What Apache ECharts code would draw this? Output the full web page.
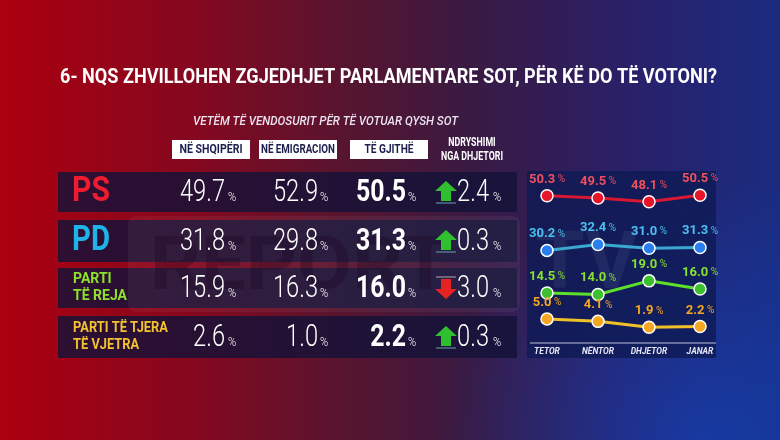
<!DOCTYPE html>
<html>
<head>
<meta charset="utf-8">
<title>Sondazh - zgjedhjet parlamentare</title>
<script src="https://cdn.jsdelivr.net/npm/echarts@6/dist/echarts.min.js"></script>
<style>
html, body { margin: 0; padding: 0; background: #3a1a40; }
#pollChart { width: 780px; height: 440px; }
</style>
</head>
<body>
<div id="pollChart"></div>
<script>
// te dhenat e sondazhit
const titleText = '6- NQS ZHVILLOHEN ZGJEDHJET PARLAMENTARE SOT, PËR KË DO TË VOTONI?'
const subTitle = 'VETËM TË VENDOSURIT PËR TË VOTUAR QYSH SOT'
const columnHeaders = ['NË SHQIPËRI', 'NË EMIGRACION', 'TË GJITHË']
const changeHeader = ['NDRYSHIMI', 'NGA DHJETORI']
const parties = ['PS', 'PD', 'PARTI\nTË REJA', 'PARTI TË TJERA\nTË VJETRA']
const inAlbania = [49.7, 31.8, 15.9, 2.6]
const inEmigration = [52.9, 29.8, 16.3, 1.0]
const overall = [50.5, 31.3, 16.0, 2.2]
const changeSinceDec = [2.4, 0.3, -3.0, 0.3]

const months = ['TETOR', 'NËNTOR', 'DHJETOR', 'JANAR']
const psTrend = [50.3, 49.5, 48.1, 50.5]
const pdTrend = [30.2, 32.4, 31.0, 31.3]
const newTrend = [14.5, 14.0, 19.0, 16.0]
const oldTrend = [5.0, 4.1, 1.9, 2.2]

// ngjyrat
const partyColors = ['#ee1c2e', '#1eb4ea', '#8de02c', '#f2c230']
const trendStyle = [
  { line: '#d81830', dot: '#e8142a', label: '#f0505c' },
  { line: '#3aa8d0', dot: '#2a7ff0', label: '#4cc0f0' },
  { line: '#5ee02a', dot: '#3cc030', label: '#88e030' },
  { line: '#f0c028', dot: '#f5a623', label: '#f5a623' }
]

const FONT = 'Roboto, "Noto Sans", sans-serif'
const ctx = document.createElement('canvas').getContext('2d')
function measure(text, size, weight, style) {
  ctx.font = (style || 'normal') + ' ' + weight + ' ' + size + 'px ' + FONT
  return Math.max(...text.split('\n').map(t => ctx.measureText(t).width))
}
function text(x, y, str, size, weight, fill, align, scaleX, fontStyle) {
  return {
    type: 'text', x: x, y: y, scaleX: scaleX || 1,
    style: {
      text: str, fontSize: size, fontWeight: weight, fontStyle: fontStyle || 'normal', fontFamily: FONT, fill: fill,
      align: align, verticalAlign: 'middle', textAlign: align, textVerticalAlign: 'middle'
    }
  }
}

// layout
const rowY = [192, 241, 288, 337]
const bandTop = [172, 220, 268, 316]
const bandH = [40, 42, 40, 42]
const numRight = [225, 318, 406, 489]
const pctLeft = [228, 320, 408, 493]
const NUM_SIZE = 31
const sLight = 45 / measure('49.7', NUM_SIZE, 300)
const sBold = 50 / measure('50.5', NUM_SIZE, 'bold')

let elements = []
elements.push({
  type: 'rect', shape: { x: 0, y: 0, width: 780, height: 440 },
  style: {
    fill: new echarts.graphic.LinearGradient(0, 0, 1, 0, [
      { offset: 0, color: '#ac000f' },
      { offset: 0.25, color: '#84081f' },
      { offset: 0.45, color: '#561530' },
      { offset: 0.6, color: '#3a1a42' },
      { offset: 0.8, color: '#2a2068' },
      { offset: 1, color: '#1a2c80' }
    ])
  }
})
elements.push({
  type: 'rect', shape: { x: 0, y: 0, width: 780, height: 440 },
  style: {
    fill: new echarts.graphic.RadialGradient(0.9, 1, 0.6, [
      { offset: 0, color: 'rgba(16,70,190,0.6)' },
      { offset: 1, color: 'rgba(16,70,190,0)' }
    ])
  }
})

// titulli
elements.push(text(60, 78, titleText, 21, 'bold', '#ffffff', 'left', 657 / measure(titleText, 21, 'bold')))
elements.push(text(193, 122, subTitle, 12, 500, '#ece4f2', 'left', 265 / measure(subTitle, 12, 500, 'italic'), 'italic'))

// koka e kolonave
const boxX = [172, 259, 350]
const boxW = [78, 78, 78]
const headW = [63, 74, 49]
columnHeaders.forEach((h, i) => {
  elements.push({ type: 'rect', shape: { x: boxX[i], y: 140, width: boxW[i], height: 19 }, style: { fill: '#ffffff' } })
  elements.push(text(boxX[i] + boxW[i] / 2, 150, h, 13, 'bold', '#1c1f4e', 'center', headW[i] / measure(h, 13, 'bold')))
})
const sHead = 62 / measure(changeHeader[1], 12, 'bold')
elements.push(text(472, 143, changeHeader[0], 12, 'bold', '#ffffff', 'center', sHead))
elements.push(text(472, 157, changeHeader[1], 12, 'bold', '#ffffff', 'center', sHead))

// rreshtat
parties.forEach((p, i) => {
  elements.push({ type: 'rect', shape: { x: 58, y: bandTop[i], width: 459, height: bandH[i] }, style: { fill: 'rgba(20,18,56,0.82)' } })
})

// watermark
elements.push({ type: 'rect', shape: { x: 128, y: 216, width: 392, height: 96, r: 8 }, style: { fill: 'rgba(255,255,255,0.05)' } })
elements.push(text(150, 270, 'REPORT', 75, 'bold', 'rgba(25,0,30,0.28)', 'left', 300 / measure('REPORT', 75, 'bold')))

// paneli djathtas
elements.push({ type: 'rect', shape: { x: 527, y: 171, width: 189, height: 187 }, style: { fill: 'rgba(14,26,84,0.8)' } })
elements.push(text(535, 268, 'TV', 80, 'bold', 'rgba(255,255,255,0.06)', 'left', 1))
elements.push({ type: 'line', shape: { x1: 530, y1: 343, x2: 716, y2: 343 }, style: { stroke: 'rgba(220,220,240,0.85)', lineWidth: 1 } })

parties.forEach((p, i) => {
  const y = rowY[i]
  if (i < 2) {
    elements.push(text(72, y, p, 35, 'bold', partyColors[i], 'left', 38 / measure(p, 35, 'bold')))
  } else {
    const target = i === 2 ? 54 : 95
    const el = text(73, y, p, 15, 'bold', partyColors[i], 'left', target / measure(p, 15, 'bold'))
    el.style.lineHeight = 17
    elements.push(el)
  }
  const cols = [inAlbania[i], inEmigration[i], overall[i], Math.abs(changeSinceDec[i])]
  cols.forEach((v, c) => {
    const bold = c === 2
    elements.push(text(numRight[c], y + 1, v.toFixed(1), NUM_SIZE, bold ? 'bold' : 300, '#ffffff', 'right', bold ? sBold : sLight))
    elements.push(text(pctLeft[c], y + 6, '%', 13, 300, '#ffffff', 'left', 0.85))
  })
  // shigjeta
  const up = changeSinceDec[i] >= 0
  const d = up ? 1 : -1
  const pts = [[0, -11], [11, -1], [5, -1], [5, 9], [-5, 9], [-5, -1], [-11, -1]].map(q => [q[0], q[1] * d])
  elements.push({ type: 'polygon', x: 446, y: y, shape: { points: pts }, style: { fill: up ? '#2fbf2f' : '#e62222' } })
  elements.push({ type: 'line', x: 446, y: y, shape: { x1: -10, y1: 11 * d, x2: 10, y2: 11 * d }, style: { stroke: up ? 'rgba(120,200,200,0.8)' : 'rgba(230,200,200,0.8)', lineWidth: 1 } })
})

const trends = [psTrend, pdTrend, newTrend, oldTrend]
const series = trends.map((data, i) => ({
  type: 'line',
  data: data,
  symbol: 'circle',
  symbolSize: 12,
  lineStyle: { color: trendStyle[i].line, width: 3 },
  itemStyle: { color: trendStyle[i].dot, borderColor: '#ffffff', borderWidth: 1.5 },
  label: {
    show: true,
    position: 'top',
    distance: 3,
    formatter: p => '{v|' + p.value.toFixed(1) + '}{p| %}',
    rich: {
      v: { color: trendStyle[i].label, fontSize: 13, fontWeight: 'bold', fontFamily: FONT },
      p: { color: trendStyle[i].label, fontSize: 10, fontFamily: FONT }
    }
  },
  z: 5
}))

const option = {
  animation: false,
  graphic: { elements: elements },
  grid: { left: 547, right: 80, top: 183, bottom: 107.5 },
  xAxis: {
    type: 'category',
    data: months,
    boundaryGap: false,
    axisLine: { show: false },
    axisTick: { show: false },
    axisLabel: { color: '#e6e6f5', fontSize: 8.5, fontStyle: 'italic', fontWeight: 'bold', fontFamily: FONT, margin: 15 }
  },
  yAxis: { type: 'value', min: 0, max: 55, show: false },
  series: series
}

let myChart = echarts.init(document.getElementById('pollChart'))
myChart.setOption(option)
</script>
</body>
</html>
